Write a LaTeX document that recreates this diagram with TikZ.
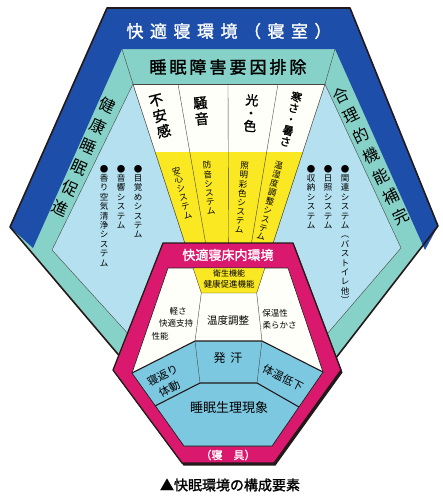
\documentclass[tikz,border=0pt]{standalone}
\usepackage{fontspec}
\newfontfamily\cjk{Noto Sans CJK JP}
\newfontfamily\cjkb{Noto Sans CJK JP}[FakeBold=1.5]
\definecolor{bandblue}{RGB}{28,78,170}
\definecolor{bandteal}{RGB}{135,210,200}
\definecolor{sideblue}{RGB}{180,224,240}
\definecolor{colyellow}{RGB}{250,232,35}
\definecolor{paper}{RGB}{255,255,250}
\definecolor{ringpink}{RGB}{218,25,110}
\definecolor{sleepblue}{RGB}{125,200,225}
\definecolor{edge}{RGB}{35,25,25}
\definecolor{thinline}{RGB}{70,70,60}
\begin{document}
\begin{tikzpicture}[x=1pt,y=-1pt,
  base/.style={inner sep=0pt,outer sep=0pt},
  vtext/.style={base,align=center},
  hdr/.style={vtext,font=\cjkb\fontsize{14}{16}\selectfont},
  ysys/.style={vtext,font=\cjk\fontsize{8.5}{9.2}\selectfont},
  lsys/.style={vtext,anchor=north,font=\cjk\fontsize{8.5}{9.4}\selectfont},
  sideband/.style={vtext,font=\cjk\fontsize{16}{22.6}\selectfont},
  small/.style={base,font=\cjk\fontsize{8.5}{9}\selectfont},
  mid/.style={base,font=\cjk\fontsize{11}{15}\selectfont,align=center},
  thinl/.style={draw=thinline,line width=0.4pt},
  thickl/.style={draw=edge,line width=1.1pt},
]
\useasboundingbox (0,0) rectangle (443,496);
\fill[white] (0,0) rectangle (443,496);

% outer big hexagon
\fill[bandteal] (107,8) -- (350,8) -- (438,226) -- (325,372) -- (228,390) -- (128,366) -- (10,227) -- cycle;
\fill[bandblue] (107,8) -- (350,8) -- (438,226) -- (425,250) -- (335,49) -- (122,49) -- (33,248) -- (10,227) -- cycle;
\draw[thinl] (122,49) -- (133,84) (335,49) -- (325,84);

% side light-blue regions
\filldraw[fill=sideblue,thinl] (133,84) -- (52,250) -- (140,347) -- (197,280) -- cycle;
\filldraw[fill=sideblue,thinl] (325,84) -- (401,248) -- (315,348) -- (261,280) -- cycle;

% central trapezoid
\fill[paper] (133,84) -- (325,84) -- (302.8,152) -- (155.2,152) -- cycle;
\fill[colyellow] (155.2,152) -- (302.8,152) -- (261,280) -- (197,280) -- cycle;
\draw[thinl] (133,84) -- (325,84);
\draw[thinl] (133,84) -- (197,280) (325,84) -- (261,280);
\draw[thinl] (178,84) -- (212,280) (228,84) -- (228.7,280) (278,84) -- (245.3,280);

\draw[edge,line width=1.6pt,line join=round] (128,366) -- (10,227) -- (107,8) -- (350,8) -- (438,226) -- (325,372);

% texts in the outer ring
\node[base,text=white,font=\cjkb\fontsize{17}{17}\selectfont] (title) at (229,31)
  {快\kern6.5pt 適\kern6.5pt 寝\kern6.5pt 環\kern6.5pt 境\kern6.5pt （\kern6.5pt 寝\kern6.5pt 室\kern6.5pt ）};
\node[base,font=\cjkb\fontsize{17}{17}\selectfont] (exclude) at (228,67)
  {睡\kern3pt 眠\kern3pt 障\kern3pt 害\kern3pt 要\kern3pt 因\kern3pt 排\kern3pt 除};
\node[sideband,rotate=-24.5] (health) at (84,157) {健\\康\\睡\\眠\\促\\進};
\node[sideband,rotate=26] (rational) at (371,156) {合\\理\\的\\機\\能\\補\\完};

% column headers
\node[hdr,rotate=14] (h1) at (160,116) {不\\安\\感};
\node[hdr,rotate=5] (h2) at (201,111) {騒\\音};
\node[vtext,font=\cjkb\fontsize{13}{13}\selectfont,rotate=-4.7] (h3) at (251,113) {光\\・\\色};
\node[vtext,font=\cjkb\fontsize{11}{11.5}\selectfont,rotate=-13.9] (h4) at (291,119) {寒\\さ\\・\\暑\\さ};

% yellow column systems
\node[ysys,rotate=14] (y1) at (182,193) {安\\心\\シ\\ス\\テ\\ム};
\node[ysys,rotate=5] (y2) at (209,188) {防\\音\\シ\\ス\\テ\\ム};
\node[ysys,rotate=-4.7] (y3) at (242,198) {照\\明\\彩\\色\\シ\\ス\\テ\\ム};
\node[ysys,rotate=-13.9] (y4) at (270,201) {温\\湿\\度\\調\\整\\シ\\ス\\テ\\ム};

% left lists
\node[lsys] (l1) at (138,165) {●\\目\\覚\\め\\シ\\ス\\テ\\ム};
\node[lsys] (l2) at (121,165) {●\\音\\響\\シ\\ス\\テ\\ム};
\node[lsys] (l3) at (104,165) {●\\香\\り\\空\\気\\清\\浄\\シ\\ス\\テ\\ム};
% right lists
\node[lsys] (r1) at (345,165) {●\\関\\連\\シ\\ス\\テ\\ム\\︵\\バ\\ス\\ト\\イ\\レ\\他\\︶};
\node[lsys] (r2) at (328,165) {●\\日\\照\\シ\\ス\\テ\\ム};
\node[lsys] (r3) at (311,165) {●\\収\\納\\シ\\ス\\テ\\ム};

% pink hexagon (bedding)
\fill[edge] (164.5,245.5) -- (294.5,245.5) -- (342.5,372.5) -- (275.5,465.5) -- (183.5,465.5) -- (114.5,372.5) -- cycle;
\filldraw[fill=ringpink,draw=edge,line width=1.3pt,line join=round]
  (163,243) -- (293,243) -- (341,370) -- (274,463) -- (182,463) -- (113,370) -- cycle;
\filldraw[fill=paper,draw=edge,line width=0.6pt]
  (168,268) -- (288,268) -- (323,372) -- (272,446) -- (184,446) -- (132,373) -- cycle;
% yellow trapezoid inside
\filldraw[fill=colyellow,thinl] (193.1,268) -- (264.9,268) -- (256.7,293) -- (201.3,293) -- cycle;
\draw[thinl] (201.3,293) -- (195,341) (256.7,293) -- (262,341);
% blue lower regions
\fill[sleepblue] (132,373) -- (195,341) -- (262,341) -- (323,372) -- (272,446) -- (184,446) -- cycle;
\draw[thinl] (195,341) -- (200,383) (262,341) -- (257,383);
\draw[thickl,line join=round] (132,373) -- (195,341) -- (262,341) -- (323,372);
\draw[thickl,line join=round] (155,406) -- (200,383) -- (257,383) -- (299,407);
\draw[edge,line width=0.6pt] (132,373) -- (184,446) -- (272,446) -- (323,372);

% pink texts
\node[base,text=white,font=\cjkb\fontsize{13}{13}\selectfont] (bedin) at (228,255) {快適寝床内環境};
\node[small,font=\cjk\fontsize{8}{8}\selectfont] (hyg) at (229,273) {衛生機能};
\node[small] (hprom) at (229,284) {健康促進機能};
\node[base,font=\cjk\fontsize{10.5}{10.5}\selectfont] (temp) at (228,321) {温度調整};
\node[small] (light1) at (178,311) {軽さ};
\node[small] (light2) at (176,323) {快適支持};
\node[small] (light3) at (160,336) {性能};
\node[small] (warm1) at (275,313) {保温性};
\node[small] (warm2) at (279.5,325) {柔らかさ};
\node[base,font=\cjk\fontsize{12}{12}\selectfont] (sweat) at (228,358) {発\kern5pt 汗};
\node[mid,rotate=27] (turn) at (166,382) {寝返り\\体動};
\node[mid,rotate=-27] (bodyt) at (283,378) {体温低下};
\node[base,font=\cjk\fontsize{13}{13}\selectfont] (physio) at (229,408) {睡眠生理現象};
\node[base,text=white,font=\cjkb\fontsize{11}{11}\selectfont] (bedding) at (228,455) {（寝　具）};

% caption
\node[base,font=\cjkb\fontsize{14}{14}\selectfont] (caption) at (230,485) {▲快眠環境の構成要素};
\end{tikzpicture}
\end{document}
